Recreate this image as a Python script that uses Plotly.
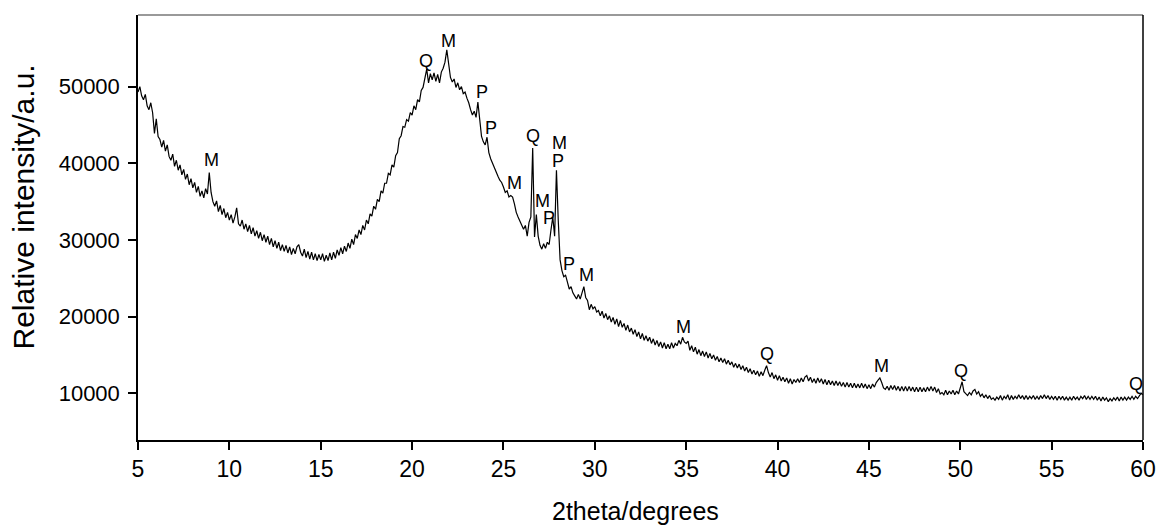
import plotly.graph_objects as go

# 2theta grid: starts at 5.0 deg, step 0.1 deg
two_theta_start = 5.0
two_theta_step = 0.1

# Relative intensity, one row per degree (5.0 ... 60.0)
intensity = [
    49300, 50000, 48800, 48300, 49000, 47500, 47000, 47900, 46600, 43900,  # 5
    45800, 43500, 43100, 42100, 43000, 41600, 42400, 40900, 40400, 41200,  # 6
    39600, 40400, 39100, 39800, 38500, 39200, 37900, 38600, 37200, 38000,  # 7
    36800, 37500, 36200, 37000, 35700, 36400, 35500, 36700, 36000, 38800,  # 8
    36200, 35000, 34400, 35100, 33700, 34500, 33300, 34100, 32900, 33600,  # 9
    32600, 33300, 32200, 33000, 34200, 32100, 31800, 32600, 31400, 32100,  # 10
    31100, 31900, 30800, 31600, 30500, 31200, 30200, 31000, 29900, 30700,  # 11
    29700, 30500, 29400, 30200, 29100, 29900, 28900, 29700, 28600, 29400,  # 12
    28500, 29300, 28300, 29100, 28100, 28900, 28200, 29100, 29400, 28400,  # 13
    27900, 28800, 27700, 28500, 27500, 28400, 27400, 28200, 27300, 28100,  # 14
    27400, 28200, 27200, 28000, 27300, 28300, 27400, 28400, 27600, 28700,  # 15
    28000, 29000, 28200, 29200, 28500, 29600, 28900, 30100, 29400, 30700,  # 16
    30200, 31300, 30700, 31900, 31300, 32600, 32100, 33400, 33100, 34400,  # 17
    34000, 35300, 35000, 36400, 36100, 37400, 37400, 38700, 38500, 39800,  # 18
    39500, 41000, 41400, 43200, 43600, 44800, 44700, 45700, 45500, 46600,  # 19
    46300, 47500, 47000, 48300, 48000, 49500, 49900, 51000, 52300, 50500,  # 20
    51700, 50900, 51800, 50700, 51600, 50500, 51900, 52400, 53200, 54800,  # 21
    53300, 51200, 50600, 51000, 49900, 50500, 49600, 50000, 49100, 49300,  # 22
    48500, 47900, 47000, 46300, 46800, 46000, 48000, 45600, 43500, 42800,  # 23
    42400, 43400, 41400, 40600, 40000, 39300, 38900, 38300, 37800, 37500,  # 24
    36900, 36200, 36400, 35600, 35800, 35600, 34700, 33600, 33000, 32500,  # 25
    31800, 31400, 31900, 30500, 32300, 33000, 42000, 30400, 33300, 30500,  # 26
    29300, 28800, 29500, 28900, 29700, 29400, 31300, 33000, 30500, 39100,  # 27
    32500, 27400, 26000, 25200, 25400, 24300, 23600, 23900, 23100, 22700,  # 28
    22300, 22900, 22300, 23100, 23900, 22500, 22100, 20900, 21600, 21000,  # 29
    21300, 20600, 20800, 20100, 20700, 19800, 20400, 19600, 20100, 19300,  # 30
    19900, 19000, 19700, 18700, 19500, 18600, 19100, 18200, 18900, 18000,  # 31
    18500, 17700, 18300, 17400, 18000, 17100, 17800, 16900, 17500, 16800,  # 32
    17300, 16500, 17100, 16300, 16900, 16100, 16700, 15900, 16600, 15800,  # 33
    16400, 15800, 16600, 15900, 16500, 16200, 16900, 16400, 17300, 16700,  # 34
    16500, 16800, 15600, 16200, 15400, 16000, 15100, 15700, 14900, 15500,  # 35
    14800, 15400, 14600, 15200, 14500, 15000, 14300, 14800, 14100, 14600,  # 36
    14000, 14500, 13800, 14300, 13700, 14100, 13400, 13900, 13300, 13800,  # 37
    13100, 13600, 12900, 13400, 12700, 13200, 12500, 13000, 12400, 12900,  # 38
    12200, 12800, 12300, 13000, 13600, 12700, 12100, 12700, 11900, 12400,  # 39
    11700, 12300, 11600, 12100, 11500, 12000, 11300, 11900, 11200, 11800,  # 40
    11400, 11900, 11400, 12000, 11500, 12100, 12300, 11600, 12100, 11400,  # 41
    11900, 11300, 12000, 11400, 11900, 11200, 11800, 11100, 11700, 11100,  # 42
    11600, 11000, 11600, 11000, 11500, 10900, 11400, 10800, 11400, 10800,  # 43
    11300, 10700, 11300, 10700, 11200, 10700, 11300, 10700, 11200, 10600,  # 44
    11100, 10600, 11200, 10800, 11400, 11700, 12000, 11400, 10700, 10500,  # 45
    10900, 10400, 11000, 10500, 11000, 10400, 10900, 10300, 10900, 10300,  # 46
    10900, 10300, 10900, 10300, 10800, 10200, 10800, 10200, 10800, 10200,  # 47
    10700, 10200, 10800, 10300, 10900, 10300, 10800, 10100, 10600, 9900,   # 48
    10100, 9800, 10400, 9800, 10300, 9900, 10400, 9800, 10300, 9900,       # 49
    10700, 11500, 10200, 9900, 9700, 10100, 9800, 10300, 10500, 9900,      # 50
    10200, 9600, 9900, 9400, 9800, 9300, 9700, 9200, 9400, 9100,           # 51
    9500, 9200, 9700, 9100, 9600, 9300, 9800, 9100, 9700, 9200,            # 52
    9600, 9300, 9800, 9300, 9700, 9200, 9700, 9200, 9600, 9300,            # 53
    9700, 9200, 9600, 9200, 9700, 9300, 9800, 9300, 9700, 9200,            # 54
    9600, 9200, 9600, 9100, 9600, 9200, 9600, 9100, 9500, 9100,            # 55
    9500, 9100, 9600, 9200, 9500, 9100, 9600, 9300, 9700, 9200,            # 56
    9600, 9200, 9600, 9200, 9600, 9100, 9500, 9000, 9500, 9100,            # 57
    9400, 8900, 9300, 9000, 9400, 9100, 9500, 9000, 9500, 9100,            # 58
    9500, 9100, 9500, 9200, 9600, 9200, 9600, 9300, 9700, 10000,           # 59
    9800,                                                                  # 60
]

# Phase labels (M, Q, P) and where they sit
label_text = ["M", "Q", "M", "P", "P", "M", "Q", "M", "P", "P", "M",
              "P", "M", "M", "Q", "M", "Q", "Q"]
label_x = [9.0, 20.78, 21.99, 23.8, 24.3, 25.6, 26.64, 27.15, 27.5, 27.96, 28.07,
           28.6, 29.55, 34.86, 39.4, 45.7, 50.05, 59.63]
label_y = [40400, 53400, 55900, 49300, 44600, 37400, 43500, 35100, 32800, 40300, 42700,
           26900, 25400, 18700, 15100, 13500, 12900, 11200]

x_ticks = [5, 10, 15, 20, 25, 30, 35, 40, 45, 50, 55, 60]
y_ticks = [10000, 20000, 30000, 40000, 50000]

x_title = "2theta/degrees"
y_title = "Relative intensity/a.u."

font_family = "Arial, Liberation Sans, sans-serif"

fig = go.Figure()
fig.add_trace(go.Scatter(
    x0=two_theta_start, dx=two_theta_step, y=intensity,
    mode="lines", line=dict(color="black", width=1.2),
    showlegend=False, hoverinfo="skip",
))

for t, lx, ly in zip(label_text, label_x, label_y):
    fig.add_annotation(x=lx, y=ly, text=t, showarrow=False,
                       font=dict(family=font_family, size=18, color="#000000"))

# axis titles placed as paper annotations
fig.add_annotation(xref="paper", yref="paper", x=0.5, y=0, xshift=-5, yshift=-71,
                   xanchor="center", yanchor="middle", showarrow=False, text=x_title,
                   font=dict(family=font_family, size=25, color="black"))
fig.add_annotation(xref="paper", yref="paper", x=0, y=0.5, xshift=-115, yshift=20,
                   xanchor="center", yanchor="middle", showarrow=False, text=y_title,
                   textangle=-90, font=dict(family=font_family, size=30, color="black"))

fig.update_layout(
    width=1157, height=527,
    margin=dict(l=138, r=14, t=15, b=87, autoexpand=False),
    paper_bgcolor="white", plot_bgcolor="white",
    font=dict(family=font_family, color="black"),
    xaxis=dict(
        range=[5, 60], tickvals=x_ticks, ticks="outside", ticklen=8, tickwidth=1.5,
        tickcolor="black", showline=True, linecolor="black", linewidth=1.5,
        showgrid=False, zeroline=False, ticklabelstandoff=0, automargin=False,
        tickfont=dict(size=23, family=font_family, color="black"),
    ),
    yaxis=dict(
        range=[3900, 59350], tickvals=y_ticks, tickformat="d", ticks="outside",
        ticklen=8, tickwidth=1.5, ticklabelstandoff=4, automargin=False,
        tickcolor="black", showline=True, linecolor="black", linewidth=1.5,
        showgrid=False, zeroline=False,
        tickfont=dict(size=22, family=font_family, color="black"),
    ),
)

# frame: grey top edge, black right edge
fig.add_shape(type="line", xref="paper", yref="paper", x0=0, x1=1, y0=1, y1=1,
              line=dict(color="#777777", width=1.5))
fig.add_shape(type="line", xref="paper", yref="paper", x0=1, x1=1, y0=0, y1=1,
              line=dict(color="black", width=1.5))

# remove the browser's default page margin so the figure fills the window exactly
fig.write_html("out.html",
               config={"displayModeBar": False},
               post_script="document.body.style.margin='0px';document.body.style.overflow='hidden';")
